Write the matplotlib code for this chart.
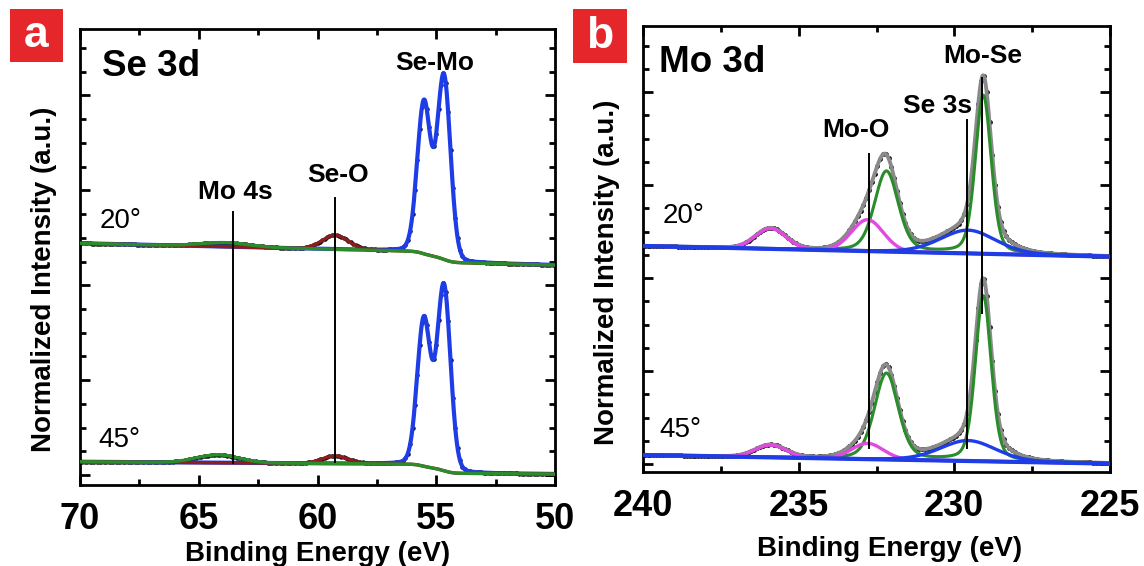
import numpy as np
import matplotlib
matplotlib.use("Agg")
import matplotlib.pyplot as plt
from matplotlib.ticker import MultipleLocator
from matplotlib.patches import Rectangle

plt.rcParams['font.family'] = ['Liberation Sans', 'DejaVu Sans']

# ---------------- Panel a : Se 3d ----------------
a_angle_labels = ['20°', '45°']
a_semo_center = [54.68, 55.52]            # Se-Mo doublet (blue)
a_semo_height = [[7.69, 6.32], [7.76, 6.15]]
a_semo_fwhm = 0.66
a_seo_center = 59.25                       # Se-O (dark red)
a_seo_height = [0.59, 0.32]
a_seo_fwhm = 1.3
a_mo4s_center = [63.9, 64.2]               # Mo 4s (green)
a_mo4s_height = [0.17, 0.33]
a_mo4s_fwhm = [2.4, 2.1]
a_bg_right = [8.85, 0.04]                  # background value at 50 eV
a_bg_slope = [0.0235, 0.007]               # per eV
a_bg_step = [0.45, 0.38]                   # Shirley step across Se-Mo
a_line_energy = [63.57, 59.26]             # Mo 4s, Se-O markers
a_line_top = [11.09, 11.68]
a_line_bottom = [0.51, 0.55]
a_xticks = [70, 65, 60, 55, 50]

# ---------------- Panel b : Mo 3d ----------------
b_mo_center = [229.07, 232.18]             # Mo-Se doublet (green)
b_mo_fwhm = [0.6, 0.9]
b_mo_height = [[6.8, 3.45], [7.1, 3.7]]
b_moo_center = [232.79, 235.9]             # Mo-O (magenta)
b_moo_fwhm = [1.2, 1.15]
b_moo_height = [[1.35, 0.88], [0.68, 0.53]]
b_se3s_center = 229.56                     # Se 3s (blue)
b_se3s_fwhm = 2.1
b_se3s_height = [1.0, 0.88]
b_bg_left = [9.38, 0.39]                   # background at 240 eV
b_bg_right = [8.92, 0.02]                  # background at 225 eV
b_line_energy = [232.73, 229.59, 229.10]   # Mo-O, Se 3s, Mo-Se markers
b_line_top = [13.33, 14.80, 16.6]
b_line_bottom = [0.69, 0.69, 6.49]
b_xticks = [240, 235, 230, 225]

BLUE = '#1f3de6'
GREEN = '#2a8c2a'
DRED = '#8e1d1d'
MAG = '#e04ae0'
GRAY = '#8a8a8a'


def pv(E, c, h, fwhm, eta):
    x = (E - c) / fwhm
    return h * ((1 - eta) * np.exp(-4 * np.log(2) * x ** 2) + eta / (1 + 4 * x ** 2))


W, H = 1144, 566
fig = plt.figure(figsize=(W / 100, H / 100), dpi=100)

axa = fig.add_axes([80 / W, (H - 485) / H, 475 / W, 456 / H])
axb = fig.add_axes([643 / W, (H - 472) / H, 467 / W, 446 / H])

# ---------- panel a ----------
Ea = np.linspace(50, 70, 1001)
for i in range(2):
    semo = sum(pv(Ea, c, h, a_semo_fwhm, 0.1) for c, h in zip(a_semo_center, a_semo_height[i]))
    cum = np.cumsum(semo)
    bg = a_bg_right[i] + a_bg_slope[i] * (Ea - 50) + a_bg_step[i] * cum / cum[-1]
    seo = pv(Ea, a_seo_center, a_seo_height[i], a_seo_fwhm, 0.0)
    mo4s = pv(Ea, a_mo4s_center[i], a_mo4s_height[i], a_mo4s_fwhm[i], 0.0)
    total = bg + semo + seo + mo4s
    axa.plot(Ea[::5], total[::5], 'o', color='black', ms=3.2, mew=0, zorder=1)
    axa.plot(Ea, bg + semo, color=BLUE, lw=3.0, zorder=2)
    axa.plot(Ea, bg + seo, color=DRED, lw=2.4, zorder=3)
    axa.plot(Ea, bg + mo4s, color=GREEN, lw=2.4, zorder=4)

for e, t, b in zip(a_line_energy, a_line_top, a_line_bottom):
    axa.plot([e, e], [b, t], color='black', lw=1.4, zorder=6)

axa.set_xlim(70, 50)
axa.set_ylim(-0.42, 18.80)
axa.set_xticks(a_xticks)
axa.xaxis.set_minor_locator(MultipleLocator(2.5))

# ---------- panel b ----------
Eb = np.linspace(225, 240, 1001)
for i in range(2):
    bg = b_bg_right[i] + (b_bg_left[i] - b_bg_right[i]) * (Eb - 225) / 15.0
    mo = sum(pv(Eb, c, h, f, 0.3) for c, h, f in zip(b_mo_center, b_mo_height[i], b_mo_fwhm))
    moo = [pv(Eb, c, h, f, 0.05) for c, h, f in zip(b_moo_center, b_moo_height[i], b_moo_fwhm)]
    se3s = pv(Eb, b_se3s_center, b_se3s_height[i], b_se3s_fwhm, 0.2)
    total = bg + mo + moo[0] + moo[1] + se3s
    axb.plot(Eb[::6], total[::6], 'o', color='black', ms=3.4, mew=0, zorder=1)
    axb.plot(Eb, total, color=GRAY, lw=2.8, zorder=2)
    axb.plot(Eb, bg + mo, color=GREEN, lw=2.2, zorder=3)
    for m in moo:
        axb.plot(Eb, bg + m, color=MAG, lw=2.4, zorder=4)
    axb.plot(Eb, bg + se3s, color=BLUE, lw=2.4, zorder=5)
    axb.plot(Eb, bg, color=BLUE, lw=3.0, zorder=5)

for e, t, b in zip(b_line_energy, b_line_top, b_line_bottom):
    axb.plot([e, e], [b, t], color='black', lw=1.4, zorder=6)

axb.set_xlim(240, 225)
axb.set_ylim(-0.34, 18.84)
axb.set_xticks(b_xticks)
axb.xaxis.set_minor_locator(MultipleLocator(2.5))

# ---------- common styling ----------
for ax in (axa, axb):
    ax.yaxis.set_major_locator(MultipleLocator(4))
    ax.yaxis.set_minor_locator(MultipleLocator(1))
    ax.tick_params(which='both', direction='in', top=True, right=True, width=2.0)
    ax.tick_params(which='major', length=7.5, pad=12.5, labelsize=26)
    ax.tick_params(which='minor', length=4.5)
    ax.tick_params(axis='y', labelleft=False)
    for lab in ax.get_xticklabels():
        lab.set_fontweight('bold')
    for s in ax.spines.values():
        s.set_linewidth(2.0)
    ax.set_xlabel('Binding Energy (eV)', fontsize=20, fontweight='bold')
    ax.set_ylabel('Normalized Intensity (a.u.)', fontsize=20, fontweight='bold')

axa.xaxis.set_label_coords(0.5, -0.123)
axb.xaxis.set_label_coords(0.529, -0.1435)
axa.yaxis.set_label_coords(-0.076, 0.452)
axb.yaxis.set_label_coords(-0.077, 0.447)
for ax in (axa, axb):
    ax.yaxis.label.set_verticalalignment('center')

# ---------- annotations ----------
def atext(ax, x, y, s, size, weight='bold', ha='center'):
    ax.text(x, y, s, transform=ax.transAxes, fontsize=size, fontweight=weight,
            ha=ha, va='baseline', zorder=10)

atext(axa, 0.046, 0.897, 'Se 3d', 26.5, ha='left')
atext(axa, 0.747, 0.910, 'Se-Mo', 19)
atext(axa, 0.543, 0.664, 'Se-O', 19)
atext(axa, 0.328, 0.627, 'Mo 4s', 19)
atext(axa, 0.042, 0.564, a_angle_labels[0], 20, weight='normal', ha='left')
atext(axa, 0.039, 0.083, a_angle_labels[1], 20, weight='normal', ha='left')

atext(axb, 0.034, 0.897, 'Mo 3d', 26.5, ha='left')
atext(axb, 0.728, 0.917, 'Mo-Se', 19)
atext(axb, 0.630, 0.805, 'Se 3s', 19)
atext(axb, 0.456, 0.751, 'Mo-O', 19)
atext(axb, 0.043, 0.558, a_angle_labels[0], 20, weight='normal', ha='left')
atext(axb, 0.034, 0.078, a_angle_labels[1], 20, weight='normal', ha='left')

# ---------- panel letters ----------
for (x0, y0, x1, y1, letter) in [(10, 9, 63, 62, 'a'), (573, 9, 627, 63, 'b')]:
    fig.patches.append(Rectangle((x0 / W, (H - y1) / H), (x1 - x0) / W, (y1 - y0) / H,
                                 transform=fig.transFigure, facecolor='#e5262b',
                                 edgecolor='none', zorder=0))
    fig.text((x0 + x1) / 2 / W, (H - (y0 + y1) / 2) / H, letter, color='white',
             fontsize=32, fontweight='bold', ha='center', va='center')

fig.savefig('out.png', dpi=100)
